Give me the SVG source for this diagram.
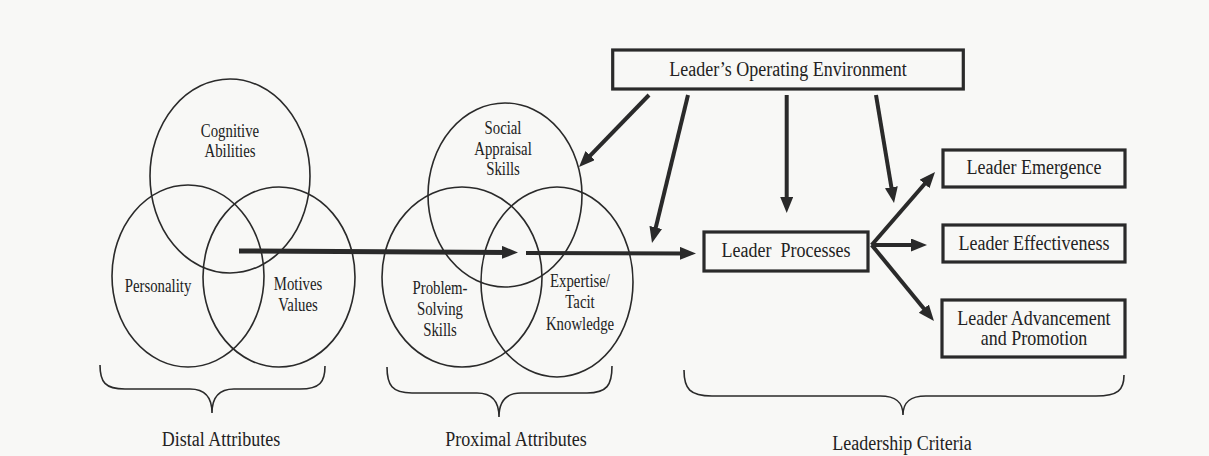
<svg xmlns="http://www.w3.org/2000/svg" width="1209" height="456" viewBox="0 0 1209 456">
<style>
.bg{fill:#f8f8f6}
.c{fill:none;stroke:#2a2a2a;stroke-width:1.6}
.b{fill:none;stroke:#2a2a2a;stroke-width:3.2}
.br{fill:none;stroke:#2a2a2a;stroke-width:1.6}
.a{fill:none;stroke:#2a2a2a;stroke-width:4}
.t{font-family:"Liberation Serif","Times New Roman",serif;fill:#222;text-anchor:middle}
.s{font-size:14.8px}
.l{font-size:18px}
</style>
<defs>
<marker id="ah" markerUnits="userSpaceOnUse" markerWidth="18" markerHeight="14" refX="8" refY="6.5" orient="auto">
<path d="M0,0 L16,6.5 L0,13 Z" fill="#2a2a2a"/>
</marker>
</defs>
<rect class="bg" x="0" y="0" width="1209" height="456"/>

<g id="distal">
<ellipse class="c" cx="230" cy="176" rx="80" ry="97"/>
<ellipse class="c" cx="188" cy="276" rx="76" ry="91"/>
<ellipse class="c" cx="279" cy="277" rx="76" ry="90"/>
<text class="t s" transform="translate(230 137) scale(1 1.22)"><tspan x="0" y="0">Cognitive</tspan><tspan x="0" y="16.2">Abilities</tspan></text>
<text class="t s" transform="translate(158 292) scale(1 1.22)">Personality</text>
<text class="t s" transform="translate(298 290) scale(1 1.22)"><tspan x="0" y="0">Motives</tspan><tspan x="0" y="17.5">Values</tspan></text>
</g>

<g id="proximal">
<ellipse class="c" cx="505" cy="195" rx="77" ry="92"/>
<ellipse class="c" cx="462" cy="277" rx="80" ry="90"/>
<ellipse class="c" cx="557" cy="282" rx="76" ry="95"/>
<text class="t s" transform="translate(503 134) scale(1 1.22)"><tspan x="0" y="0">Social</tspan><tspan x="0" y="17.5">Appraisal</tspan><tspan x="0" y="34">Skills</tspan></text>
<text class="t s" transform="translate(440 294) scale(1 1.22)"><tspan x="0" y="0">Problem-</tspan><tspan x="0" y="17.2">Solving</tspan><tspan x="0" y="34.2">Skills</tspan></text>
<text class="t s" transform="translate(580 287) scale(1 1.22)"><tspan x="0" y="0">Expertise/</tspan><tspan x="0" y="17.5">Tacit</tspan><tspan x="0" y="35">Knowledge</tspan></text>
</g>

<g id="environment">
<rect class="b" x="612.7" y="50" width="350.6" height="39"/>
<text class="t l" transform="translate(788 76) scale(1 1.2)">Leader’s Operating Environment</text>
</g>

<g id="processes">
<rect class="b" x="704" y="232" width="164" height="39"/>
<text class="t l" transform="translate(786 257) scale(1 1.2)" xml:space="preserve">Leader  Processes</text>
</g>

<g id="emergence">
<rect class="b" x="943" y="150" width="182" height="37"/>
<text class="t l" transform="translate(1034 173.5) scale(1 1.2)">Leader Emergence</text>
</g>

<g id="effectiveness">
<rect class="b" x="943" y="225" width="182" height="37"/>
<text class="t l" transform="translate(1034 249.5) scale(1 1.2)">Leader Effectiveness</text>
</g>

<g id="advancement">
<rect class="b" x="942" y="300" width="183" height="57"/>
<text class="t l" transform="translate(1034 324.5) scale(1 1.15)"><tspan x="0" y="0">Leader Advancement</tspan><tspan x="0" y="18">and Promotion</tspan></text>
</g>

<g id="connectors">
<line class="a" style="stroke-width:5" x1="239" y1="251" x2="510" y2="252.4" marker-end="url(#ah)"/>
<line class="a" x1="526" y1="253" x2="688" y2="253.4" marker-end="url(#ah)"/>
<line class="a" x1="649" y1="95" x2="584.6" y2="161.3" marker-end="url(#ah)"/>
<line class="a" x1="688" y1="95" x2="653.9" y2="235.2" marker-end="url(#ah)"/>
<line class="a" x1="786.7" y1="95" x2="786.7" y2="205" marker-end="url(#ah)"/>
<line class="a" x1="876" y1="95" x2="892.7" y2="195.1" marker-end="url(#ah)"/>
<line class="a" x1="871.7" y1="245" x2="929.8" y2="178" marker-end="url(#ah)"/>
<line class="a" x1="871.7" y1="245" x2="919" y2="245" marker-end="url(#ah)"/>
<line class="a" x1="871.7" y1="245" x2="928.9" y2="314.8" marker-end="url(#ah)"/>
</g>

<g id="distal-brace">
<path class="br" d="M100,365 C100,382 105,389 125,389 L190,389 C205,389 212,398 212,413 C212,398 219,389 234,389 L300,389 C320,389 325,382 325,366"/>
<text class="t l" transform="translate(221 446) scale(1 1.2)">Distal Attributes</text>
</g>
<g id="proximal-brace">
<path class="br" d="M387,367 C387,385 392,393 412,393 L477,393 C492,393 499,402 499,417 C499,402 506,393 521,393 L587,393 C607,393 612,385 612,366"/>
<text class="t l" transform="translate(516 446) scale(1 1.2)">Proximal Attributes</text>
</g>
<g id="leadership-brace">
<path class="br" d="M684,370 C684,389 690,396 712,396 L880,396 C896,396 903,402 903,415 C903,402 910,396 926,396 L1096,396 C1118,396 1124,390 1124,375"/>
<text class="t l" transform="translate(902 450) scale(1 1.2)">Leadership Criteria</text>
</g>
</svg>
